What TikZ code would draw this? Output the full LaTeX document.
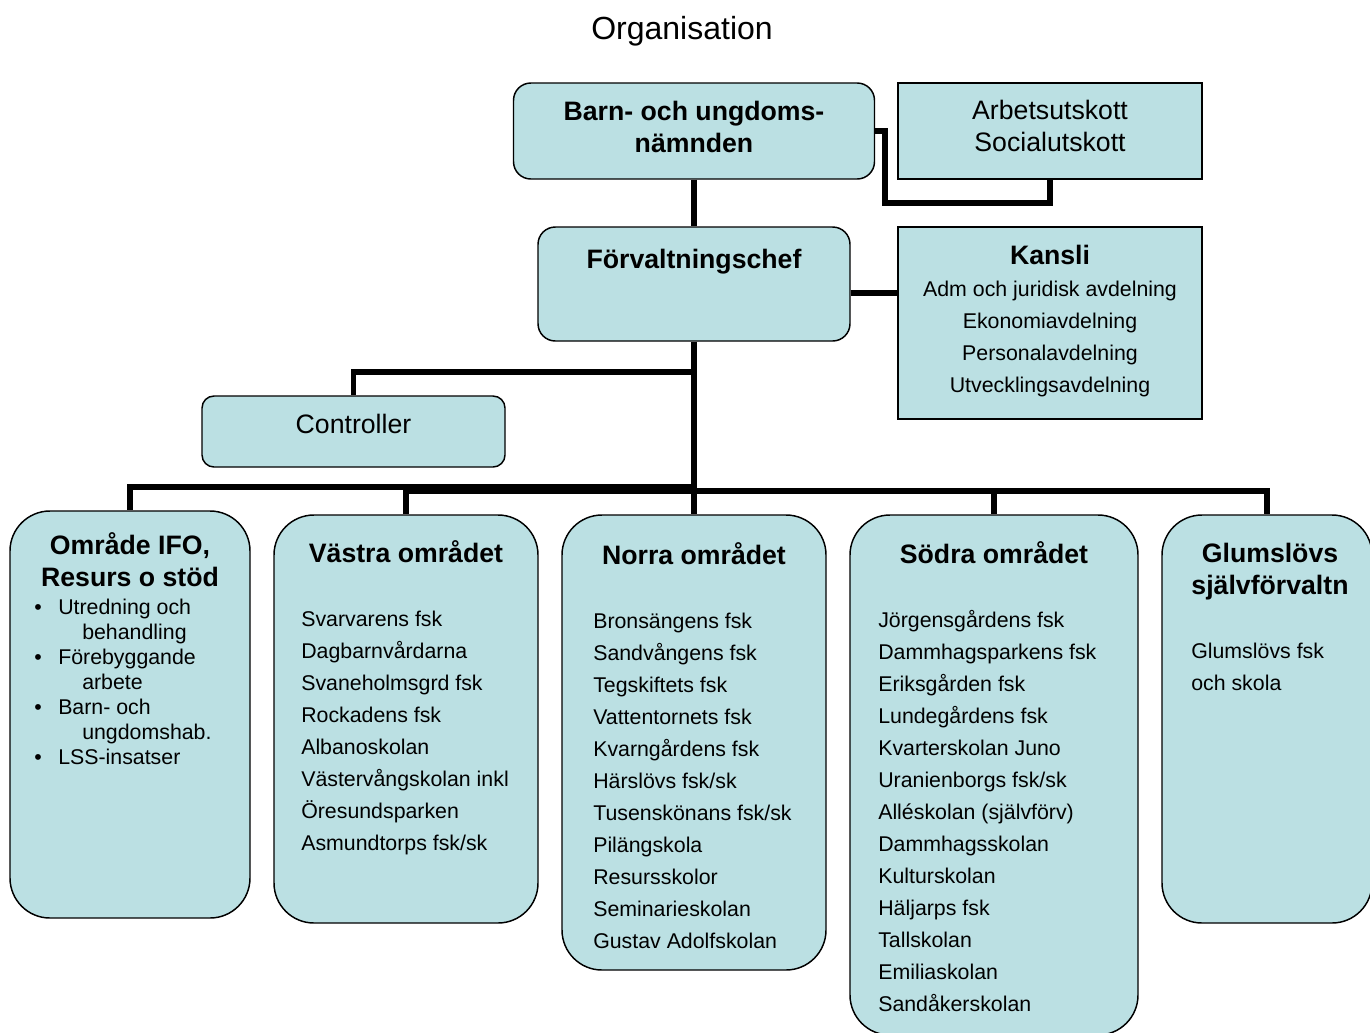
\documentclass[tikz,border=0pt]{standalone}
\usepackage{fontspec}
\setmainfont{Liberation Sans}
\definecolor{boxblue}{RGB}{187,224,227}
\begin{document}
\begin{tikzpicture}[x=0.75pt, y=-0.75pt,
  box/.style={draw, fill=boxblue, line width=1.1pt, inner sep=0pt},
  roundbox/.style={box, rounded corners=#1},
  link/.style={line width=3.8pt},
  head/.style={font=\fontsize{20}{24}\selectfont\bfseries, inner sep=0pt},
  big/.style={font=\fontsize{20}{24}\selectfont, inner sep=0pt},
  item/.style={font=\fontsize{16}{19}\selectfont, inner sep=0pt}]
    \useasboundingbox (0, 0) rectangle (1370, 1032);

    \node[font=\fontsize{24}{28}\selectfont, anchor=base] (title) at (682, 39) {Organisation};

    % Top level
    \node[roundbox=13pt, minimum width=270.75pt, minimum height=72pt] (barn) at (694, 131) {};
    \node[head, anchor=base] (barnT1) at (694, 120) {Barn- och ungdoms-};
    \node[head, anchor=base] (barnT2) at (694, 152) {nämnden};
    \node[box, minimum width=228pt, minimum height=72pt] (utskott) at (1050, 131) {};
    \node[big, anchor=base] (utskottT1) at (1050, 119) {Arbetsutskott};
    \node[big, anchor=base] (utskottT2) at (1050, 151) {Socialutskott};

    % Management
    \node[roundbox=13pt, minimum width=234pt, minimum height=85.5pt] (chef) at (694, 284) {};
    \node[head, anchor=base] (chefT) at (694, 268) {Förvaltningschef};
    \node[box, minimum width=228pt, minimum height=144pt] (kansli) at (1050, 323) {};
    \node[head, anchor=base] (kansliT) at (1050, 264) {Kansli};
    \foreach \t [count=\i from 0] in {Adm och juridisk avdelning, Ekonomiavdelning,
                                     Personalavdelning, Utvecklingsavdelning} {
      \node[item, anchor=base] (k\i) at (1050, {296+32*\i}) {\t};
    }
    \node[roundbox=9pt, minimum width=227.25pt, minimum height=53.25pt] (ctrl) at (353.5, 431.5) {};
    \node[big, anchor=base] (ctrlT) at (353.5, 433) {Controller};

    % Areas
    \node[roundbox=30pt, minimum width=180pt, minimum height=305.25pt] (ifo) at (130, 714.5) {};
    \node[roundbox=30pt, minimum width=198pt, minimum height=306pt] (vastra) at (406, 719) {};
    \node[roundbox=30pt, minimum width=198pt, minimum height=341.25pt] (norra) at (694, 742.5) {};
    \node[roundbox=30pt, minimum width=216pt, minimum height=390pt] (sodra) at (994, 775) {};
    \node[roundbox=30pt, minimum width=157.5pt, minimum height=306pt] (glum) at (1267, 719) {};

    % Område IFO
    \node[head, anchor=base] (ifoH1) at (130, 554) {Område IFO,};
    \node[head, anchor=base] (ifoH2) at (130, 586) {Resurs o stöd};
    \foreach \t [count=\i from 0] in {Utredning och, Förebyggande, Barn- och, LSS-insatser} {
      \node[item, anchor=base] (ifoD\i) at (38, {614+50*\i}) {\textbullet};
      \node[item, anchor=base west] (ifoB\i) at (58, {614+50*\i}) {\t};
    }
    \foreach \t [count=\i from 0] in {behandling, arbete, ungdomshab.} {
      \node[item, anchor=base west] (ifoC\i) at (82, {639+50*\i}) {\t};
    }

    % Västra området
    \node[head, anchor=base] (vastraH) at (406, 562) {Västra området};
    \foreach \t [count=\i from 0] in {Svarvarens fsk, Dagbarnvårdarna, Svaneholmsgrd fsk,
        Rockadens fsk, Albanoskolan, Västervångskolan inkl, Öresundsparken,
        {Asmundtorps fsk/sk}} {
      \node[item, anchor=base west] (v\i) at (301, {626+32*\i}) {\t};
    }

    % Norra området
    \node[head, anchor=base] (norraH) at (694, 564) {Norra området};
    \foreach \t [count=\i from 0] in {Bronsängens fsk, Sandvångens fsk, Tegskiftets fsk,
        Vattentornets fsk, Kvarngårdens fsk, {Härslövs fsk/sk}, {Tusenskönans fsk/sk},
        Pilängskola, Resursskolor, Seminarieskolan, Gustav Adolfskolan} {
      \node[item, anchor=base west] (n\i) at (593, {628+32*\i}) {\t};
    }

    % Södra området
    \node[head, anchor=base] (sodraH) at (994, 563) {Södra området};
    \foreach \t [count=\i from 0] in {Jörgensgårdens fsk, Dammhagsparkens fsk, Eriksgården fsk,
        Lundegårdens fsk, Kvarterskolan Juno, {Uranienborgs fsk/sk}, {Alléskolan (självförv)},
        Dammhagsskolan, Kulturskolan, Häljarps fsk, Tallskolan, Emiliaskolan, Sandåkerskolan} {
      \node[item, anchor=base west] (s\i) at (878, {627+32*\i}) {\t};
    }

    % Glumslövs självförvaltn
    \node[head, anchor=base] (glumH1) at (1270, 562) {Glumslövs};
    \node[head, anchor=base] (glumH2) at (1270, 594) {självförvaltn};
    \node[item, anchor=base west] (g0) at (1191, 658) {Glumslövs fsk};
    \node[item, anchor=base west] (g1) at (1191, 690) {och skola};

    % Connections
    \coordinate (utskottJoin) at (885, 203);
    \coordinate (ctrlJoin) at (694, 372);
    \coordinate (leftJoin) at (694, 487);
    \coordinate (rightBar) at (0, 491);
    \draw[link] (barn) -- (chef);
    \draw[link] (barn.east) -| (utskottJoin) -| (utskott.south);
    \draw[link] ([yshift=-6.75pt]chef.east) -- ([yshift=-6.75pt]chef.east -| kansli.west);
    \draw[link] (chef) -- (norra);
    \draw[link] (ctrlJoin) -| (ctrl.north);
    \draw[link] (leftJoin) -| (ifo.north);
    \draw[link] (vastra.north) |- (rightBar -| glum.north) -- (glum.north);
    \draw[link] (sodra.north) -- (sodra.north |- rightBar);
\end{tikzpicture}
\end{document}
